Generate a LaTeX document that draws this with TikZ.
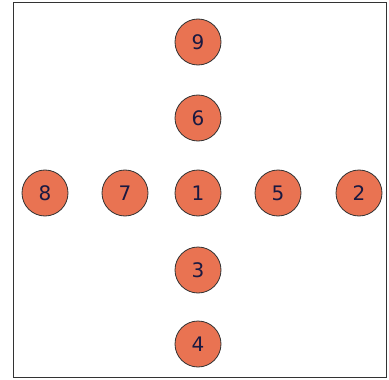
\documentclass[tikz,border=0pt]{standalone}
\usepackage{fontspec}
\setmainfont{DejaVu Sans}
\definecolor{disc}{RGB}{233,115,82}
\definecolor{ink}{RGB}{25,25,65}
\begin{document}
\begin{tikzpicture}[x=1pt,y=-1pt,
  disk/.style={circle,draw=black!80,line width=0.8pt,fill=disc,minimum size=46pt,inner sep=0pt,text=ink,font=\fontsize{20}{20}\selectfont}]
\useasboundingbox (0,0) rectangle (389,380);
\fill[white] (0,0) rectangle (389,380);
\draw[line width=0.9pt,black!80] (13.5,2.5) rectangle (386.5,377);
\node[disk] (n9) at (198,42) {9};
\node[disk] (n6) at (198,118) {6};
\node[disk] (n1) at (198,193) {1};
\node[disk] (n3) at (198,270) {3};
\node[disk] (n4) at (198,344) {4};
\node[disk] (n8) at (45,193) {8};
\node[disk] (n7) at (125,193) {7};
\node[disk] (n5) at (278,193) {5};
\node[disk] (n2) at (359,193) {2};
\end{tikzpicture}
\end{document}
